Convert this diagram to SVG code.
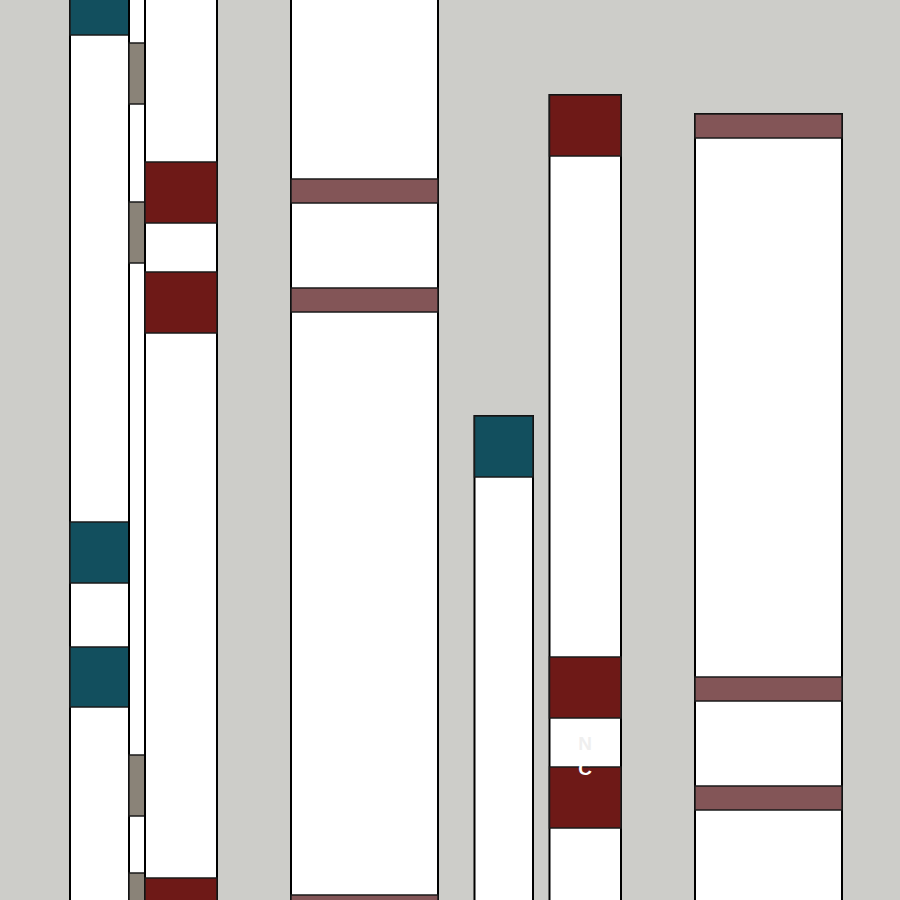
<svg xmlns="http://www.w3.org/2000/svg" width="900" height="900" viewBox="0 0 900 900">
<style>
.col{fill:#ffffff;stroke:#000;stroke-width:2}
.teal{fill:#124f5e;stroke:#1a1a1a;stroke-width:1.5}
.red{fill:#6e1917;stroke:#1a1a1a;stroke-width:1.5}
.mar{fill:#835557;stroke:#1a1a1a;stroke-width:1.5}
.gray{fill:#8a8378;stroke:#1a1a1a;stroke-width:1.5}
.lbl{font-family:"Liberation Sans",Arial,sans-serif;font-weight:bold;font-size:19px;text-anchor:middle}
</style>
<rect x="0" y="0" width="900" height="900" fill="#cdcdc9"/>
<g id="col1">
<rect class="col" x="70" y="-5" width="59" height="910"/>
<rect class="teal" x="70" y="-5" width="59" height="40"/>
<rect class="teal" x="70" y="522" width="59" height="61"/>
<rect class="teal" x="70" y="647" width="59" height="60"/>
</g>
<g id="col2">
<rect class="col" x="129" y="-5" width="16" height="910"/>
<rect class="gray" x="129" y="43" width="16" height="61"/>
<rect class="gray" x="129" y="202" width="16" height="61"/>
<rect class="gray" x="129" y="755" width="16" height="61"/>
<rect class="gray" x="129" y="873" width="16" height="40"/>
</g>
<g id="col3">
<rect class="col" x="145" y="-5" width="72" height="910"/>
<rect class="red" x="145" y="162" width="72" height="61"/>
<rect class="red" x="145" y="272" width="72" height="61"/>
<rect class="red" x="145" y="878" width="72" height="40"/>
</g>
<g id="col4">
<rect class="col" x="291" y="-5" width="147" height="910"/>
<rect class="mar" x="291" y="179" width="147" height="24"/>
<rect class="mar" x="291" y="288" width="147" height="24"/>
<rect class="mar" x="291" y="895" width="147" height="24"/>
</g>
<g id="col5">
<rect class="col" x="474.5" y="416" width="58.5" height="500"/>
<rect class="teal" x="474.5" y="416" width="58.5" height="61"/>
</g>
<g id="col6">
<rect class="col" x="549.5" y="95" width="71.5" height="820"/>
<rect class="red" x="549.5" y="95" width="71.5" height="61"/>
<rect class="red" x="549.5" y="657" width="71.5" height="61"/>
<rect class="red" x="549.5" y="767" width="71.5" height="61"/>
<text class="lbl" x="585" y="750" fill="#efefef">N</text>
<text class="lbl" x="585" y="775" fill="#ffffff">C</text>
</g>
<g id="col7">
<rect class="col" x="695" y="114" width="147" height="800"/>
<rect class="mar" x="695" y="114" width="147" height="24"/>
<rect class="mar" x="695" y="677" width="147" height="24"/>
<rect class="mar" x="695" y="786" width="147" height="24"/>
</g>
<g id="connectors"/>
</svg>
